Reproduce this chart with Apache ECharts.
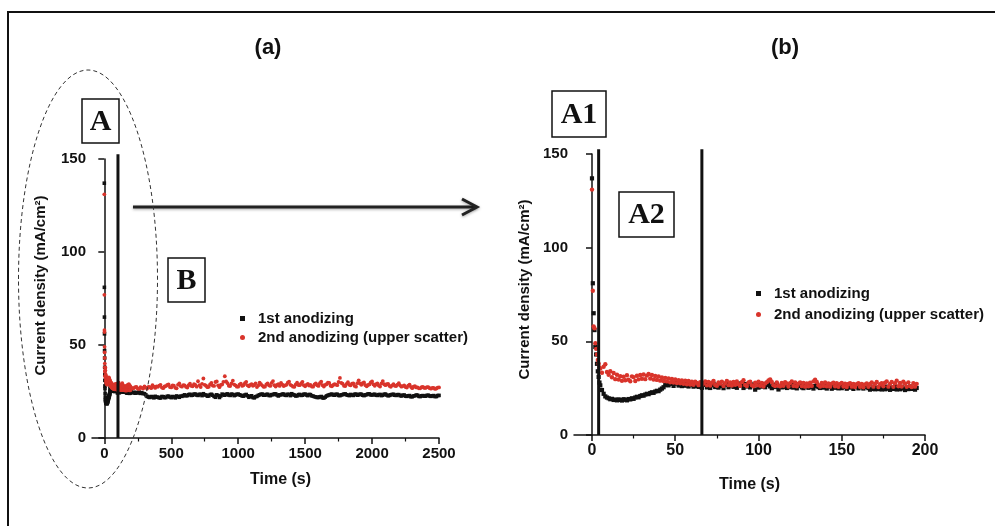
<!DOCTYPE html>
<html><head><meta charset="utf-8">
<script src="https://cdn.jsdelivr.net/npm/echarts@6/dist/echarts.min.js"></script>
<style>html,body{margin:0;padding:0;background:#fff}#c{width:995px;height:526px}</style>
</head><body><div id="c"></div>
<script>
// ---------------- data ----------------
// initial spike (s) and current density (mA/cm2)
const SPIKE_T = [0, 0.5, 1, 1.5, 2, 2.5, 3, 3.5, 4, 4.5];
const FIRST_SPIKE = [137, 81, 65, 56, 47, 43, 38, 34, 31, 28];
const SECOND_SPIKE = [131, 77, 58, 57, 49, 46, 43, 40, 38, 36];

// 5 s .. 195 s, 1 s sampling
const MAIN_T_START = 5, MAIN_T_STEP = 1;
const FIRST_MAIN = [
  26.5, 24, 22, 20.6, 20, 19.6, 19.1, 19.3, 18.7, 18.9,
  18.5, 19, 18.7, 18.4, 19.1, 18.8, 18.5, 19.2, 19, 19.6,
  19.3, 20, 20.4, 20.1, 20.8, 21.2, 21, 21.6, 22, 21.8,
  22.4, 22.8, 22.5, 23.2, 23.6, 23.4, 24.2, 24.8, 25.5, 26.6,
  27.6, 26.5, 27.3, 27.9, 26.2, 27.4, 27.8, 26.4, 27.5, 26.1,
  27.4, 26.3, 27.2, 25.9, 27, 26.6, 25.8, 26.9, 26.2, 25.7,
  26.3, 25.2, 26.8, 27.1, 25.4, 26.9, 25.1, 26.5, 27.3, 25.6,
  26.7, 25.3, 27, 26.1, 25, 26.8, 27.4, 25.5, 26.4, 27.1,
  25.7, 26.9, 25.2, 26.3, 27.5, 26.6, 25.1, 27.2, 25.9, 26.5,
  25.4, 26.2, 27, 24.2, 26.6, 25.3, 26.9, 25.8, 27.2, 25.5,
  26.7, 27.4, 25.9, 25, 26.8, 25.6, 27.1, 24.3, 26.2, 25.4,
  26.9, 25.7, 25.1, 26.6, 25.5, 27.1, 25.3, 26.4, 24.9, 26.2,
  26.8, 25.4, 25, 26.5, 25.9, 25.2, 26.9, 25.6, 24.8, 26.1,
  27, 25.5, 25.1, 26.6, 25.3, 26.2, 24.8, 26.4, 25.7, 24.7,
  26.3, 25.2, 26.5, 24.9, 25.8, 25, 26.4, 25.6, 24.7, 26,
  25.3, 26.4, 24.6, 25.7, 26.2, 24.9, 25.5, 26.5, 24.8, 25.6,
  26.3, 25, 24.2, 24.6, 25.8, 24.4, 25.3, 24.5, 25.9, 24.3,
  25.2, 24.4, 25.8, 24.7, 24.1, 25.4, 24.6, 25.9, 24.3, 25.2,
  24.4, 25.7, 24.8, 24, 25.5, 24.5, 25.9, 24.6, 25.2, 24.2,
  25.1
];
const SECOND_MAIN = [
  35.5, 33.2, 36.4, 37.8, 33.6, 32.2, 34, 30.8, 33.1, 29.8,
  32.2, 29.6, 31.4, 28.9, 31.1, 29.2, 31.9, 29.5, 28.7, 31.3,
  30.9, 28.8, 31.6, 29.7, 32, 30, 32.3, 29.8, 31.7, 32.6,
  30.2, 32, 29.6, 31.5, 29.4, 31.2, 29, 30.7, 28.8, 30.5,
  28.6, 30.2, 28.1, 29.9, 28, 29.6, 27.7, 29.3, 27.6, 29.1,
  27.3, 29, 27.1, 28.8, 26.9, 28.5, 26.8, 28.4, 27.8, 26.6,
  28.2, 26.7, 27.6, 28.6, 26.5, 28.3, 26.4, 27.9, 28.8, 26.7,
  26.3, 28.1, 27.4, 28.5, 26.2, 27.7, 28.9, 26.6, 28, 26.4,
  28.3, 26.8, 28.6, 27.1, 26.2, 28.2, 29.2, 26.7, 26.1, 28,
  28.5, 26.6, 26, 27.9, 26.5, 28.4, 26.3, 27.8, 25.9, 27.5,
  28.2, 29.1, 29.7, 28.3, 26.6, 26.1, 28.1, 26.4, 26, 27.8,
  26.3, 28.2, 27.5, 25.9, 27.7, 28.6, 26.2, 28, 26, 27.4,
  28.1, 26.1, 27.8, 25.8, 27.5, 26, 27.9, 26.2, 28.6, 29.5,
  28.3, 26.6, 25.9, 27.8, 26.2, 28, 26, 27.5, 25.8, 27.4,
  27.9, 26, 27.7, 25.7, 27.3, 27.8, 25.9, 27.4, 25.6, 27.2,
  27.7, 25.8, 27.3, 25.6, 27.1, 27.6, 25.7, 27.2, 25.5, 27,
  27.5, 25.7, 27.2, 28.1, 25.8, 27.3, 28.3, 25.6, 27.1, 27.7,
  26, 27.9, 28.6, 25.8, 27.3, 28.3, 25.7, 27.6, 29, 26,
  27.8, 25.9, 28.4, 27.4, 25.7, 28.1, 26.1, 25.6, 27.7, 25.8,
  27.3
];

// 200 s .. 2500 s, 10 s sampling (panel a only)
const LATE_T_START = 200, LATE_T_STEP = 10;
const FIRST_LATE = [
  24.8, 24.3, 24.6, 24.1, 24.5, 24.2, 24.7, 24, 24.4, 23.9,
  23.8, 23.2, 22.4, 22, 21.8, 22.3, 22.1, 21.6, 22.4, 21.9,
  22, 21.6, 21.5, 22.3, 22.2, 21.7, 21.8, 22.4, 22.5, 22,
  21.7, 22.3, 22.1, 21.6, 22.6, 22.2, 21.9, 22.5, 22.4, 22.8,
  23.2, 22.7, 22.8, 23.3, 23.5, 22.9, 23, 23.6, 23.6, 23.1,
  22.9, 23.5, 23.4, 22.8, 23.8, 23.2, 23.1, 22.5, 22.6, 23.3,
  23.5, 23, 22.4, 21.9, 23.2, 22.8, 21.8, 22.6, 23.6, 23.2,
  23, 23.5, 23.7, 23.1, 22.9, 23.6, 23.4, 22.8, 23.1, 23.5,
  23.6, 23.2, 23, 22.6, 22.5, 23.1, 23.4, 22.7, 21.9, 22.4,
  22.7, 21.8, 21.6, 22.2, 22.4, 22.9, 23.2, 23.5, 23.6, 23,
  23, 23.4, 23.5, 22.9, 22.8, 23.3, 23.3, 23.7, 23.7, 23.1,
  22.6, 23.2, 23.2, 23.6, 23.6, 23, 22.9, 23.5, 23.4, 22.8,
  23.8, 23.3, 23.1, 22.6, 22.7, 23.3, 23.4, 22.9, 23, 23.5,
  23.6, 23.1, 22.8, 23.4, 23.3, 22.7, 22.5, 22.2, 22.1, 21.8,
  21.8, 22.1, 22.3, 21.6, 21.5, 22, 22.6, 22.9, 23.2, 23.4,
  23.6, 23.1, 23, 23.5, 23.5, 22.9, 22.8, 23.2, 23.3, 23.6,
  23.7, 23.2, 23, 22.8, 23.4, 23.1, 22.9, 23.5, 23.6, 23,
  23.2, 23.6, 23.5, 23, 22.8, 23.2, 23.3, 23.7, 23.7, 23.2,
  23.1, 23.4, 23.5, 23, 22.9, 23.3, 23.4, 22.8, 23, 23.5,
  23.6, 23.1, 22.7, 22.9, 23.2, 23.4, 23.5, 23, 22.9, 23.3,
  23.3, 22.8, 22.6, 23, 23.1, 22.5, 22.4, 22.7, 22.8, 22.2,
  22.2, 22.6, 22.7, 23.1, 23, 22.4, 22.3, 22.7, 22.8, 22.5,
  22.5, 22.9, 23, 22.6, 22.4, 22.7, 22.8, 22.3, 22.3, 22.8,
  22.9
];
const SECOND_LATE = [
  27.2, 26.6, 26.8, 27.4, 27.5, 26.5, 26.4, 27.3, 27, 26.6,
  27.8, 27.1, 26.6, 27.5, 27.3, 26.8, 28.4, 27.6, 26.9, 27.8,
  27.5, 28.2, 28.6, 27.1, 26.8, 27.7, 27.9, 28.5, 28.8, 27.4,
  27.2, 28.3, 28.1, 27, 26.7, 28.6, 29.4, 27.9, 27.6, 28.4,
  28.3, 27.5, 27.1, 28.4, 29.2, 28, 27.8, 28.9, 28.5, 27.6,
  30.5, 28.4, 27.4, 29.1, 32, 28.6, 28.1, 27.3, 27.5, 28.8,
  29.6, 28.2, 28, 30.1, 30.4, 28.3, 27.3, 28.5, 28.8, 30.2,
  33.2, 30.4, 29.5, 28.1, 27.9, 29.3, 30.8, 28.7, 28.3, 27.6,
  27.6, 28.7, 29.2, 28, 28.4, 29.5, 30.2, 28.3, 27.8, 28.6,
  29, 28.1, 28.5, 29.4, 27.4, 28.2, 29.8, 28.9, 28.2, 27.5,
  27.6, 28.8, 29.4, 28.3, 28, 29.6, 30.6, 28.4, 27.7, 28.5,
  28.9, 28, 29.6, 28.7, 27.9, 28.3, 28.6, 29.7, 30.3, 28.6,
  28.2, 27.6, 27.5, 28.8, 29.7, 28.5, 28.4, 29.3, 30.2, 28.4,
  27.8, 28.6, 29.1, 28.2, 28.5, 27.7, 27.6, 28.8, 29.4, 28.3,
  28, 29.5, 30.3, 28.4, 27.7, 28.6, 28.9, 29.8, 29.6, 28.1,
  27.8, 28.5, 29, 28.7, 28.4, 30.1, 32.3, 29.6, 29.2, 28.1,
  27.9, 29.1, 30, 28.6, 28.3, 29.2, 29.4, 28, 27.6, 29.5,
  31, 29.3, 28.6, 29.5, 29.9, 28.4, 27.8, 28.5, 28.8, 29.9,
  30.4, 28.8, 28.1, 28.9, 29.3, 28.2, 27.7, 29.4, 30.6, 28.9,
  28.4, 28.9, 29.1, 28, 27.5, 28.3, 28.9, 28.1, 27.9, 28.7,
  29.5, 28.2, 27.6, 27.9, 28.3, 27.4, 27.1, 28.2, 28.7, 27.5,
  26.8, 27.6, 27.9, 27.2, 27.2, 26.7, 26.7, 27.3, 27.5, 26.9,
  26.9, 27.3, 27.4, 26.8, 26.5, 26.9, 27, 26.4, 26.6, 27.1,
  27.2
];

const X_TICKS_A = [0, 500, 1000, 1500, 2000, 2500];
const X_MINOR_A = [250, 750, 1250, 1750, 2250];
const X_TICKS_B = [0, 50, 100, 150, 200];
const X_MINOR_B = [25, 75, 125, 175];
const MARKER_A = [102];        // stage boundary in (a), s
const MARKER_B = [4, 66];      // stage boundaries in (b), s
const NAME_1 = '1st anodizing';
const NAME_2 = '2nd anodizing (upper scatter)';

// ---------------- build ----------------
function seqT(start, step, n) { const t = []; for (let i = 0; i < n; i++) t.push(start + i * step); return t; }
function zip(ts, vs) { return vs.map((v, i) => [ts[i], v]); }
const mainT = seqT(MAIN_T_START, MAIN_T_STEP, FIRST_MAIN.length);
const lateT = seqT(LATE_T_START, LATE_T_STEP, FIRST_LATE.length);
const first_b = zip(SPIKE_T, FIRST_SPIKE).concat(zip(mainT, FIRST_MAIN));
const second_b = zip(SPIKE_T, SECOND_SPIKE).concat(zip(mainT, SECOND_MAIN));
const first_a = first_b.concat(zip(lateT, FIRST_LATE));
const second_a = second_b.concat(zip(lateT, SECOND_LATE));

const FONT = '"Liberation Sans", Arial, Helvetica, sans-serif';
const SERIF = '"Liberation Serif", "Times New Roman", serif';
const INK = '#111';
const RED = '#d9342b';

function mainX(grid, min, max, ticks, fs, gap, pad) {
  return {
    type: 'value', gridIndex: grid, position: 'bottom', min: min, max: max,
    name: 'Time (s)', nameLocation: 'middle', nameGap: gap,
    nameTextStyle: { fontFamily: FONT, fontWeight: 'bold', fontSize: 16, color: INK, padding: pad },
    axisLine: { lineStyle: { color: INK, width: 1.5 } },
    axisTick: { show: true, customValues: ticks, length: 6, lineStyle: { color: INK, width: 1.5 } },
    axisLabel: { customValues: ticks, formatter: v => String(v), fontFamily: FONT, fontWeight: 'bold', fontSize: fs, color: INK, margin: 8 },
    splitLine: { show: false }
  };
}
function minorX(grid, min, max, ticks) {
  return {
    type: 'value', gridIndex: grid, position: 'bottom', min: min, max: max,
    axisLine: { show: false },
    axisTick: { show: true, customValues: ticks, length: 3.5, lineStyle: { color: INK, width: 1.2 } },
    axisLabel: { show: false }, splitLine: { show: false }
  };
}
function yAx(grid, gap, pad) {
  return {
    type: 'value', gridIndex: grid, min: 0, max: 150, interval: 50,
    name: 'Current density (mA/cm²)', nameLocation: 'middle', nameGap: gap, nameRotate: 90,
    nameTextStyle: { fontFamily: FONT, fontWeight: 'bold', fontSize: 15, color: INK, padding: pad },
    axisLine: { show: true, lineStyle: { color: INK, width: 1.5 } },
    axisTick: { show: true, length: 6, lineStyle: { color: INK, width: 1.5 } },
    axisLabel: { fontFamily: FONT, fontWeight: 'bold', fontSize: 15, color: INK, margin: 6 },
    splitLine: { show: false }
  };
}
function scatter(name, xi, yi, data, sym, color, size) {
  return { type: 'scatter', name: name, xAxisIndex: xi, yAxisIndex: yi, data: data,
    symbol: sym, symbolSize: size, itemStyle: { color: color, opacity: 1 }, silent: true, animation: false };
}
function vline(xi, yi, x) {
  return { type: 'line', name: 'boundary', xAxisIndex: xi, yAxisIndex: yi, data: [[x, 0], [x, 152.5]],
    clip: false, showSymbol: false, symbol: 'none', lineStyle: { color: INK, width: 3 }, silent: true, animation: false, z: 3 };
}

const series = [
  scatter(NAME_1, 0, 0, first_a, 'rect', INK, 3.6),
  scatter(NAME_2, 0, 0, second_a, 'circle', RED, 3.8),
  scatter(NAME_1, 2, 1, first_b, 'rect', INK, 4.2),
  scatter(NAME_2, 2, 1, second_b, 'circle', RED, 4.4)
];
MARKER_A.forEach(x => series.push(vline(0, 0, x)));
MARKER_B.forEach(x => series.push(vline(2, 1, x)));

function legendAt(left, top, gap) {
  return {
    orient: 'vertical', left: left, top: top, padding: 0, itemWidth: 5, itemHeight: 5, itemGap: gap,
    data: [NAME_1, NAME_2], selectedMode: false,
    textStyle: { fontFamily: FONT, fontWeight: 'bold', fontSize: 15, color: INK, lineHeight: 15, padding: [0, 0, 0, 8] }
  };
}
function box(x, y, w, h, label, fs) {
  return { type: 'group', children: [
    { type: 'rect', shape: { x: x, y: y, width: w, height: h }, style: { fill: '#fff', stroke: INK, lineWidth: 1.5 } },
    { type: 'text', x: x + w / 2, y: y + h / 2 + 1, style: { text: label, fill: INK, font: 'bold ' + fs + 'px ' + SERIF, textAlign: 'center', textVerticalAlign: 'middle' } }
  ], z: 10 };
}

const option = {
  backgroundColor: '#fff',
  animation: false,
  grid: [
    { left: 92, top: 159, width: 347, height: 279, containLabel: false },
    { left: 574, top: 154, width: 351, height: 281, containLabel: false }
  ],
  xAxis: [
    mainX(0, -92, 2500, X_TICKS_A, 15, 34, [0, 0, 0, 30]),
    minorX(0, -92, 2500, X_MINOR_A),
    mainX(1, -10.8, 200, X_TICKS_B, 16, 42, [0, 0, 0, 0]),
    minorX(1, -10.8, 200, X_MINOR_B)
  ],
  yAxis: [ yAx(0, 44, [0, 0, 0, 26]), yAx(1, 42, [0, 0, 0, 10]) ],
  legend: [ legendAt(240, 311, 4), legendAt(756, 286, 6) ],
  series: series,
  graphic: [
    { type: 'rect', shape: { x: 8, y: 12, width: 1010, height: 600 }, style: { fill: 'none', stroke: INK, lineWidth: 2 }, z: 1 },
    { type: 'text', x: 268, y: 48, style: { text: '(a)', fill: INK, font: 'bold 22px ' + FONT, textAlign: 'center', textVerticalAlign: 'middle' } },
    { type: 'text', x: 785, y: 48, style: { text: '(b)', fill: INK, font: 'bold 22px ' + FONT, textAlign: 'center', textVerticalAlign: 'middle' } },
    { type: 'ellipse', shape: { cx: 88, cy: 279, rx: 69.5, ry: 209 }, style: { fill: 'none', stroke: '#333', lineWidth: 1, lineDash: [4, 3] }, z: 5 },
    box(82, 99, 37, 44, 'A', 30),
    box(168, 258, 37, 44, 'B', 30),
    box(552, 91, 54, 46, 'A1', 30),
    box(619, 192, 55, 45, 'A2', 30),
    { type: 'group', z: 6, children: [
      { type: 'line', shape: { x1: 133, y1: 207, x2: 476, y2: 207 }, style: { stroke: '#222', lineWidth: 3, shadowBlur: 3, shadowColor: 'rgba(0,0,0,0.35)', shadowOffsetY: 1 } },
      { type: 'polyline', shape: { points: [[462, 199], [477, 207], [462, 215]] }, style: { fill: 'none', stroke: '#222', lineWidth: 3, lineJoin: 'miter', shadowBlur: 3, shadowColor: 'rgba(0,0,0,0.35)', shadowOffsetY: 1 } }
    ] }
  ]
};
const chart = echarts.init(document.getElementById('c'), null, { renderer: 'canvas' });
chart.setOption(option);
</script>
</body></html>
